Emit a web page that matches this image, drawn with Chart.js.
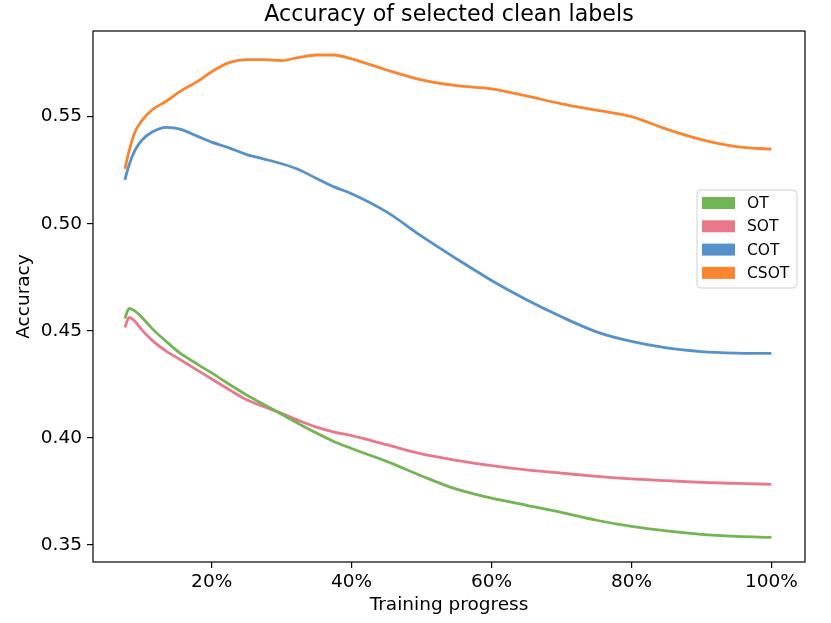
<!DOCTYPE html>
<html>
<head>
<meta charset="utf-8">
<script src="https://cdn.jsdelivr.net/npm/chart.js@4.4.1/dist/chart.umd.min.js"></script>
<style>
  body { margin: 0; background: #fff; }
  canvas { display: block; }
</style>
</head>
<body>
<canvas id="myChart" width="831" height="623"></canvas>
<script>
'use strict';
let progress = [7.6, 8.2, 9, 10, 11.5, 13.5, 15.5, 18, 20, 22.5, 25, 27.5, 30, 32.5, 35, 37.5, 40,
  45, 50, 55, 60, 65, 70, 75, 80, 85, 90, 95, 100];

let otAcc = [0.4557, 0.4604, 0.4593, 0.4563, 0.4510, 0.4450, 0.4395, 0.4343, 0.4303, 0.4250, 0.4200,
  0.4155, 0.4110, 0.4065, 0.4022, 0.3982, 0.3950, 0.3890, 0.3822, 0.3760, 0.3718, 0.3685, 0.3652,
  0.3615, 0.3586, 0.3565, 0.3549, 0.3540, 0.3535];
let sotAcc = [0.4515, 0.4562, 0.4546, 0.4505, 0.4455, 0.4405, 0.4365, 0.4315, 0.4275, 0.4225, 0.4178,
  0.4145, 0.4114, 0.4080, 0.4050, 0.4027, 0.4010, 0.3968, 0.3925, 0.3895, 0.3870, 0.3850, 0.3835,
  0.3820, 0.3808, 0.3800, 0.3792, 0.3787, 0.3783];
let cotAcc = [0.5205, 0.5275, 0.5340, 0.5389, 0.5428, 0.5450, 0.5442, 0.5408, 0.5381, 0.5354, 0.5323,
  0.5302, 0.5280, 0.5252, 0.5211, 0.5172, 0.5140, 0.5055, 0.4942, 0.4836, 0.4735, 0.4645, 0.4565,
  0.4495, 0.4450, 0.4420, 0.4403, 0.4396, 0.4394];
let csotAcc = [0.5256, 0.5340, 0.5425, 0.5480, 0.5532, 0.5572, 0.5618, 0.5665, 0.5710, 0.5752, 0.5766,
  0.5766, 0.5762, 0.5777, 0.5788, 0.5788, 0.5770, 0.5718, 0.5672, 0.5645, 0.5630, 0.5597, 0.5560,
  0.5530, 0.5500, 0.5442, 0.5393, 0.5360, 0.5348];

let seriesNames = ['OT', 'SOT', 'COT', 'CSOT'];
let seriesColors = ['#72b553', '#e9788b', '#5592cb', '#fb842e'];
let yTicks = [0.35, 0.40, 0.45, 0.50, 0.55];
let xTicks = [20, 40, 60, 80, 100];

const FONT = 'DejaVu Sans';

function toPoints(values) {
  let pts = [];
  for (let i = 0; i < progress.length; i++) {
    pts.push({ x: progress[i], y: values[i] });
  }
  return pts;
}

let allSeries = [otAcc, sotAcc, cotAcc, csotAcc];
let datasets = [];
for (let i = 0; i < allSeries.length; i++) {
  datasets.push({
    label: seriesNames[i],
    data: toPoints(allSeries[i]),
    borderColor: seriesColors[i],
    backgroundColor: seriesColors[i],
    borderWidth: 2.8,
    pointRadius: 0,
    cubicInterpolationMode: 'monotone',
    fill: false
  });
}

// frame, title and legend box, drawn like the matplotlib original
const decorations = {
  id: 'decorations',
  afterDraw(chart) {
    let ctx = chart.ctx;
    let area = chart.chartArea;
    ctx.save();
    ctx.strokeStyle = '#000';
    ctx.lineWidth = 1.2;
    ctx.strokeRect(area.left, area.top, area.right - area.left, area.bottom - area.top);

    ctx.fillStyle = '#000';
    ctx.font = '22.2px "' + FONT + '"';
    ctx.textAlign = 'center';
    ctx.textBaseline = 'middle';
    ctx.fillText('Accuracy of selected clean labels', (area.left + area.right) / 2, 15);

    // legend
    let bx = 697, by = 190, bw = 100, bh = 98, r = 4;
    ctx.beginPath();
    ctx.moveTo(bx + r, by);
    ctx.arcTo(bx + bw, by, bx + bw, by + bh, r);
    ctx.arcTo(bx + bw, by + bh, bx, by + bh, r);
    ctx.arcTo(bx, by + bh, bx, by, r);
    ctx.arcTo(bx, by, bx + bw, by, r);
    ctx.closePath();
    ctx.fillStyle = 'rgba(255,255,255,0.8)';
    ctx.fill();
    ctx.strokeStyle = '#d0d0d0';
    ctx.lineWidth = 1;
    ctx.stroke();

    ctx.font = '15.5px "' + FONT + '"';
    ctx.textAlign = 'left';
    for (let i = 0; i < seriesNames.length; i++) {
      let cy = 203 + i * 23.3;
      ctx.fillStyle = seriesColors[i];
      ctx.fillRect(702, cy - 6, 33, 12);
      ctx.fillStyle = '#000';
      ctx.fillText(seriesNames[i], 747, cy + 1);
    }
    ctx.restore();
  }
};

let ctx = document.getElementById('myChart').getContext('2d');
let myChart = new Chart(ctx, {
  type: 'line',
  data: { datasets: datasets },
  options: {
    responsive: false,
    animation: false,
    layout: { padding: { top: 31, right: 26, left: 0, bottom: 0 } },
    plugins: {
      legend: { display: false },
      title: { display: false },
      tooltip: { enabled: false }
    },
    scales: {
      x: {
        type: 'linear',
        min: 3.04,
        max: 104.8,
        afterFit: function(scale) { scale.height = 61; },
        afterBuildTicks: function(scale) {
          scale.ticks = xTicks.map(v => ({ value: v }));
        },
        ticks: {
          color: '#000',
          font: { family: FONT, size: 18.5 },
          padding: 3,
          maxRotation: 0,
          callback: v => v + '%'
        },
        grid: { drawOnChartArea: false, drawTicks: true, tickLength: 6, color: '#000', lineWidth: 1.2 },
        border: { display: false },
        title: {
          display: true,
          text: 'Training progress',
          color: '#000',
          font: { family: FONT, size: 18.5 },
          padding: { top: 0, bottom: 7 }
        }
      },
      y: {
        type: 'linear',
        min: 0.342,
        max: 0.590,
        afterFit: function(scale) { scale.width = 93; },
        afterBuildTicks: function(scale) {
          scale.ticks = yTicks.map(v => ({ value: v }));
        },
        ticks: {
          color: '#000',
          font: { family: FONT, size: 18.5 },
          padding: 5,
          callback: v => v.toFixed(2)
        },
        grid: { drawOnChartArea: false, drawTicks: true, tickLength: 6, color: '#000', lineWidth: 1.2 },
        border: { display: false },
        title: {
          display: true,
          text: 'Accuracy',
          color: '#000',
          font: { family: FONT, size: 18.5 },
          padding: { top: 13, bottom: 0 }
        }
      }
    }
  },
  plugins: [decorations]
});
</script>
</body>
</html>
